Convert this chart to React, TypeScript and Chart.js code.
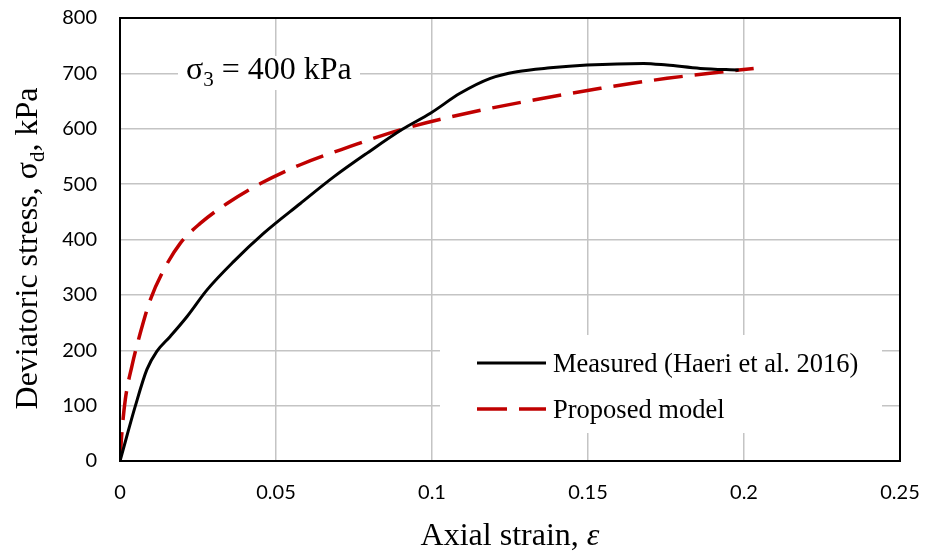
import React, { useEffect, useRef } from "react";
import { Chart, registerables } from "chart.js";

Chart.register(...registerables);

// ---- Data ----
const measuredStrain = [0, 0.0049, 0.0086, 0.0118, 0.0161, 0.0215, 0.0279, 0.0364, 0.046, 0.0578, 0.0685, 0.0792, 0.0905, 0.0995, 0.109, 0.1187, 0.1272, 0.1379, 0.1497, 0.1678, 0.1753, 0.186, 0.1983];
const measuredStress = [0, 99, 165, 198, 225, 261, 309, 360, 411, 465, 513, 556, 599, 628, 664, 691, 703, 710, 715, 718, 715, 709, 706];

const modelStrain = [0, 0.0006, 0.0017, 0.0038, 0.0065, 0.0097, 0.014, 0.0193, 0.0257, 0.0343, 0.045, 0.0578, 0.0738, 0.0898, 0.1112, 0.1326, 0.154, 0.1753, 0.1983, 0.2031];
const modelStress = [0, 51, 111, 171, 231, 291, 345, 393, 429, 465, 501, 535, 568, 598, 628, 652, 673, 691, 706, 709];

const seriesNames = ["Measured (Haeri et al. 2016)", "Proposed model"];
const seriesColors = ["#000000", "#C00000"];
const xTitle = "Axial strain, ";
const xTitleSymbol = "ε";
const yTitleParts = ["Deviatoric stress, σ", "d", ", kPa"];
const annotationParts = ["σ", "3", " = 400 kPa"];

const xMin = 0, xMax = 0.25, xStep = 0.05;
const yMin = 0, yMax = 800, yStep = 100;

const SERIF = '"Liberation Serif", "Times New Roman", serif';
const TICK_FONT = 'Lato, "Open Sans", sans-serif';

const overlayPlugin = {
  id: "overlay",
  beforeDatasetsDraw(chart: any) {
    const { ctx, chartArea: a } = chart;
    ctx.save();
    ctx.fillStyle = "#ffffff";
    ctx.fillRect(a.left + 58, a.top + 38, 182, 34);
    ctx.fillRect(a.left + 320, a.top + 317, 442, 98);
    ctx.restore();
  },
  afterDatasetsDraw(chart: any) {
    const { ctx, chartArea: a } = chart;
    ctx.save();
    ctx.strokeStyle = "#000";
    ctx.lineWidth = 2;
    ctx.strokeRect(a.left, a.top, a.right - a.left, a.bottom - a.top);

    ctx.fillStyle = "#000";
    ctx.textBaseline = "alphabetic";

    // annotation
    let x = a.left + 66;
    const by = a.top + 61;
    ctx.font = `32px ${SERIF}`;
    ctx.fillText(annotationParts[0], x, by);
    x += ctx.measureText(annotationParts[0]).width;
    ctx.font = `21px ${SERIF}`;
    ctx.fillText(annotationParts[1], x, by + 7);
    x += ctx.measureText(annotationParts[1]).width;
    ctx.font = `32px ${SERIF}`;
    ctx.fillText(annotationParts[2], x, by);

    // legend
    const lx = a.left + 357;
    const lw = 69;
    const rows = [a.top + 345, a.top + 391];
    ctx.lineCap = "butt";
    ctx.strokeStyle = seriesColors[0];
    ctx.lineWidth = 3;
    ctx.setLineDash([]);
    ctx.beginPath();
    ctx.moveTo(lx, rows[0]);
    ctx.lineTo(lx + lw, rows[0]);
    ctx.stroke();
    ctx.strokeStyle = seriesColors[1];
    ctx.lineWidth = 3.5;
    ctx.setLineDash([30, 12]);
    ctx.beginPath();
    ctx.moveTo(lx, rows[1]);
    ctx.lineTo(lx + lw, rows[1]);
    ctx.stroke();
    ctx.setLineDash([]);
    ctx.font = `26.5px ${SERIF}`;
    ctx.fillStyle = "#000";
    ctx.fillText(seriesNames[0], lx + 76, rows[0] + 9);
    ctx.fillText(seriesNames[1], lx + 76, rows[1] + 9);

    // x axis title
    ctx.font = `32px ${SERIF}`;
    const w1 = ctx.measureText(xTitle).width;
    ctx.font = `italic 32px ${SERIF}`;
    const w2 = ctx.measureText(xTitleSymbol).width;
    const cx = (a.left + a.right) / 2;
    const tx = cx - (w1 + w2) / 2;
    ctx.font = `32px ${SERIF}`;
    ctx.fillText(xTitle, tx, a.bottom + 84);
    ctx.font = `italic 32px ${SERIF}`;
    ctx.fillText(xTitleSymbol, tx + w1, a.bottom + 84);

    // y axis title (rotated) with subscript
    ctx.save();
    ctx.translate(37, (a.top + a.bottom) / 2 + 9);
    ctx.rotate(-Math.PI / 2);
    ctx.font = `32px ${SERIF}`;
    const p0 = ctx.measureText(yTitleParts[0]).width;
    const p2 = ctx.measureText(yTitleParts[2]).width;
    ctx.font = `21px ${SERIF}`;
    const p1 = ctx.measureText(yTitleParts[1]).width;
    let yx = -(p0 + p1 + p2) / 2;
    ctx.font = `32px ${SERIF}`;
    ctx.fillText(yTitleParts[0], yx, 0);
    yx += p0;
    ctx.font = `21px ${SERIF}`;
    ctx.fillText(yTitleParts[1], yx, 7);
    yx += p1;
    ctx.font = `32px ${SERIF}`;
    ctx.fillText(yTitleParts[2], yx, 0);
    ctx.restore();

    ctx.restore();
  },
};

export default function App() {
  const canvasRef = useRef<HTMLCanvasElement | null>(null);

  useEffect(() => {
    document.body.style.margin = "0";
    const canvas = canvasRef.current;
    if (!canvas) return;
    const toPts = (xs: number[], ys: number[]) => xs.map((v, i) => ({ x: v, y: ys[i] }));
    const chart = new Chart(canvas, {
      type: "scatter",
      data: {
        datasets: [
          {
            label: seriesNames[0],
            data: toPts(measuredStrain, measuredStress),
            showLine: true,
            borderColor: seriesColors[0],
            backgroundColor: seriesColors[0],
            borderWidth: 3,
            pointRadius: 0,
            cubicInterpolationMode: "monotone",
          },
          {
            label: seriesNames[1],
            data: toPts(modelStrain, modelStress),
            showLine: true,
            borderColor: seriesColors[1],
            backgroundColor: seriesColors[1],
            borderWidth: 3.5,
            borderDash: [29, 12],
            pointRadius: 0,
            cubicInterpolationMode: "monotone",
          },
        ],
      },
      options: {
        animation: false,
        responsive: false,
        devicePixelRatio: 1,
        layout: { padding: { left: 0, right: 27, top: 18, bottom: 0 } },
        plugins: { legend: { display: false }, tooltip: { enabled: false } },
        scales: {
          x: {
            type: "linear",
            min: xMin,
            max: xMax,
            ticks: {
              stepSize: xStep,
              padding: 20,
              color: "#000",
              font: { family: TICK_FONT, size: 20 },
              callback: (v: any) => String(Number(Number(v).toFixed(2))),
            },
            grid: { color: "#c4c4c4", lineWidth: 1.5, drawTicks: false },
            border: { display: false },
            afterFit: (s: any) => {
              s.height = 91;
              s.paddingLeft = 0;
              s.paddingRight = 0;
            },
          },
          y: {
            type: "linear",
            min: yMin,
            max: yMax,
            ticks: {
              stepSize: yStep,
              padding: 23,
              color: "#000",
              font: { family: TICK_FONT, size: 20 },
            },
            grid: { color: "#c4c4c4", lineWidth: 1.5, drawTicks: false },
            border: { display: false },
            afterFit: (s: any) => {
              s.width = 120;
              s.paddingTop = 0;
              s.paddingBottom = 0;
            },
          },
        },
      },
      plugins: [overlayPlugin],
    } as any);
    return () => chart.destroy();
  }, []);

  return (
    <div style={{ width: 927, height: 552, position: "relative", background: "#fff" }}>
      <canvas ref={canvasRef} width={927} height={552} style={{ display: "block" }} />
    </div>
  );
}
